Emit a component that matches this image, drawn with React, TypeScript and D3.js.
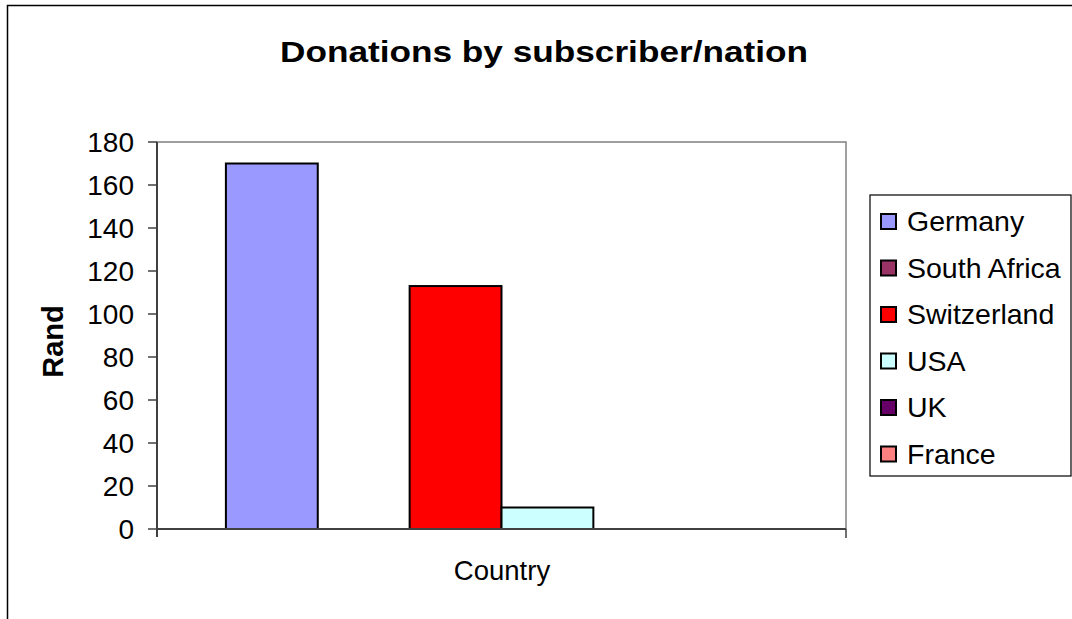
import React from "react";
import * as d3 from "d3";

const title = "Donations by subscriber/nation";
const yAxisTitle = "Rand";
const xAxisTitle = "Country";
const seriesNames = ["Germany", "South Africa", "Switzerland", "USA", "UK", "France"];
const seriesValues = [170, 0, 113, 10, 0, 0];
const seriesColors = ["#9999FF", "#993366", "#FF0000", "#CCFFFF", "#660066", "#FF8080"];
const yTicks = [0, 20, 40, 60, 80, 100, 120, 140, 160, 180];

const W = 1072;
const H = 619;
const plot = { left: 157, right: 846, top: 142, bottom: 529 };
const font = "'Liberation Sans', Arial, sans-serif";

export default function App() {
  const x = d3
    .scaleBand<string>()
    .domain(seriesNames)
    .range([plot.left, plot.right])
    .paddingInner(0)
    .paddingOuter(0.75);
  const y = d3.scaleLinear().domain([0, 180]).range([plot.bottom, plot.top]);

  const legend = { x: 870, y: 195, w: 201, h: 281, rowY0: 221.5, rowStep: 46.5 };

  return (
    <svg
      width={W}
      height={H}
      style={{ position: "absolute", left: 0, top: 0, background: "#fff" }}
      fontFamily={font}
    >
      <rect x={0} y={0} width={W} height={H} fill="#fff" />
      {/* outer chart frame */}
      <path d={`M7.5,${H} V5.5 H${W}`} fill="none" stroke="#000" strokeWidth={1.5} />

      {/* title */}
      <text
        x={280}
        y={62}
        fontSize={30}
        fontWeight="bold"
        textLength={528}
        lengthAdjust="spacingAndGlyphs"
        fill="#000"
      >
        {title}
      </text>

      {/* plot area border */}
      <rect
        x={plot.left}
        y={plot.top}
        width={plot.right - plot.left}
        height={plot.bottom - plot.top}
        fill="#fff"
        stroke="#808080"
        strokeWidth={1.5}
      />

      {/* bars */}
      {seriesNames.map((name, i) => {
        const v = seriesValues[i];
        if (v <= 0) return null;
        return (
          <rect
            key={name}
            x={x(name)!}
            y={y(v)}
            width={x.bandwidth()}
            height={y(0) - y(v)}
            fill={seriesColors[i]}
            stroke="#000"
            strokeWidth={2}
          />
        );
      })}

      {/* y axis */}
      <line x1={plot.left} x2={plot.left} y1={plot.top} y2={plot.bottom + 8} stroke="#404040" strokeWidth={2} />
      {yTicks.map((t) => (
        <g key={t}>
          <line x1={plot.left - 9} x2={plot.left} y1={y(t)} y2={y(t)} stroke="#404040" strokeWidth={1.5} />
          <text x={134} y={y(t) + 9.5} fontSize={28} textAnchor="end" fill="#000">
            {t}
          </text>
        </g>
      ))}

      {/* x axis */}
      <line x1={plot.left} x2={plot.right} y1={plot.bottom} y2={plot.bottom} stroke="#404040" strokeWidth={2} />
      <line x1={plot.right} x2={plot.right} y1={plot.bottom} y2={plot.bottom + 9} stroke="#404040" strokeWidth={1.5} />

      {/* axis titles */}
      <text
        transform={`translate(63,341.5) rotate(-90)`}
        fontSize={29}
        fontWeight="bold"
        textAnchor="middle"
        fill="#000"
      >
        {yAxisTitle}
      </text>
      <text x={502} y={580} fontSize={27.5} textAnchor="middle" fill="#000">
        {xAxisTitle}
      </text>

      {/* legend */}
      <rect x={legend.x} y={legend.y} width={legend.w} height={legend.h} fill="#fff" stroke="#000" strokeWidth={1.2} />
      {seriesNames.map((name, i) => {
        const cy = legend.rowY0 + i * legend.rowStep;
        return (
          <g key={name}>
            <rect x={881} y={cy - 7.5} width={15} height={15} fill={seriesColors[i]} stroke="#000" strokeWidth={2} />
            <text x={907} y={cy + 9.5} fontSize={28.5} fill="#000">
              {name}
            </text>
          </g>
        );
      })}
    </svg>
  );
}
